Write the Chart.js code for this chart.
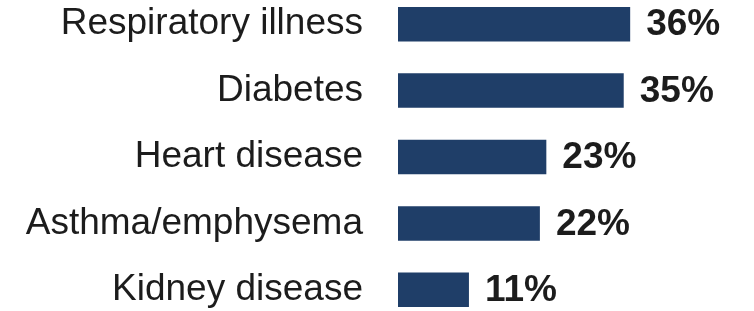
<!DOCTYPE html>
<html>
<head>
<meta charset="utf-8">
<script src="https://cdn.jsdelivr.net/npm/chart.js@4"></script>
<style>
  html, body { margin: 0; padding: 0; background: #fff; overflow: hidden; width: 754px; height: 311px; }
  #chart { position: absolute; left: 0; top: -9px; }
</style>
</head>
<body>
<canvas id="chart" width="754" height="332"></canvas>
<script>
// 질환 / 비율
const categories = ["Respiratory illness", "Diabetes", "Heart disease", "Asthma/emphysema", "Kidney disease"]
const values = [36, 35, 23, 22, 11]

const barColor = "#1f3e68"
const textColor = "#1c1c1c"

// 막대 끝에 값 표시
const valueLabels = {
    id: "valueLabels",
    afterDatasetsDraw(chart){
        const ctx = chart.ctx
        const meta = chart.getDatasetMeta(0)
        ctx.save()
        ctx.font = "bold 37px 'Liberation Sans', Arial, sans-serif"
        ctx.fillStyle = textColor
        ctx.textAlign = "left"
        ctx.textBaseline = "middle"
        meta.data.forEach((bar, i) => {
            ctx.fillText(values[i] + "%", bar.x + 16, bar.y + 1)
        })
        ctx.restore()
    }
}

new Chart(document.getElementById("chart"), {
    type: "bar",
    data: {
        labels: categories,
        datasets: [{
            data: values,
            backgroundColor: barColor,
            barPercentage: 0.52,
            categoryPercentage: 1
        }]
    },
    options: {
        indexAxis: "y",
        responsive: false,
        maintainAspectRatio: false,
        animation: false,
        devicePixelRatio: 1,
        layout: { padding: 0 },
        plugins: {
            legend: { display: false },
            tooltip: { enabled: false }
        },
        scales: {
            x: {
                display: false,
                min: 0,
                max: 55.2
            },
            y: {
                grid: { display: false, drawTicks: false },
                border: { display: false },
                ticks: {
                    color: textColor,
                    padding: 35,
                    autoSkip: false,
                    font: { family: "'Liberation Sans', Arial, sans-serif", size: 37 }
                },
                afterFit(scale){
                    scale.width = 398
                    scale.paddingTop = 0
                    scale.paddingBottom = 0
                }
            }
        }
    },
    plugins: [valueLabels]
})
</script>
</body>
</html>
